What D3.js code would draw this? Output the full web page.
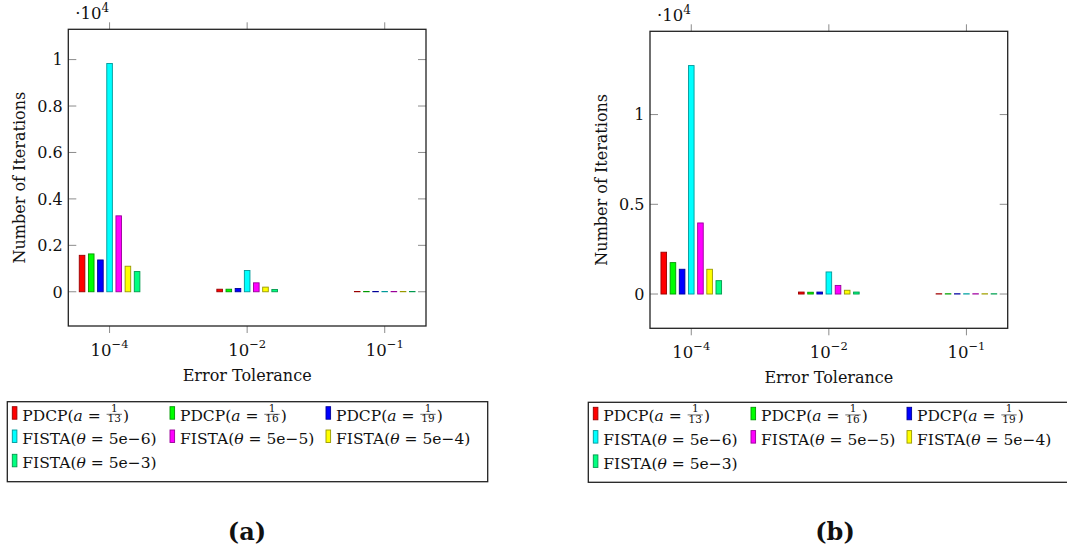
<!DOCTYPE html>
<html>
<head>
<meta charset="utf-8">
<script src="https://cdn.jsdelivr.net/npm/d3@7"></script>
<style>
  html, body { margin: 0; padding: 0; background: #fff; }
  svg { display: block; }
  text { font-family: "DejaVu Serif", serif; fill: #111; white-space: pre; }
</style>
</head>
<body>
<svg id="fig" width="1067" height="554"></svg>
<script>
// Error tolerances on the x axis (shown as 10^exp)
const tolerances = ["1e-4", "1e-2", "1e-1"];
const toleranceExponents = ["\u22124", "\u22122", "\u22121"];

// Method names for the legend
const methods = [
  { name: "PDCP(",  sym: "a", num: "1", den: "13" },
  { name: "PDCP(",  sym: "a", num: "1", den: "16" },
  { name: "PDCP(",  sym: "a", num: "1", den: "19" },
  { name: "FISTA(", sym: "\u03b8", val: "5e\u22126" },
  { name: "FISTA(", sym: "\u03b8", val: "5e\u22125" },
  { name: "FISTA(", sym: "\u03b8", val: "5e\u22124" },
  { name: "FISTA(", sym: "\u03b8", val: "5e\u22123" }
];
const methodColors = ["#ff0000", "#00ff00", "#0000ff", "#00ffff", "#ff00ff", "#ffff00", "#00ff80"];

// Panel (a): iterations per tolerance for each method
const pdcp13A = [1570, 110, 12];
const pdcp16A = [1630, 110, 12];
const pdcp19A = [1370, 140, 12];
const fista6A = [9830, 915, 12];
const fista5A = [3270, 385, 12];
const fista4A = [1100, 200, 12];
const fista3A = [870, 100, 12];

// Panel (b): iterations per tolerance for each method
const pdcp13B = [2330, 110, 15];
const pdcp16B = [1750, 100, 15];
const pdcp19B = [1380, 110, 15];
const fista6B = [12730, 1230, 15];
const fista5B = [3960, 480, 15];
const fista4B = [1380, 210, 15];
const fista3B = [745, 110, 15];

// y tick values (raw) for each panel; labels are value / 10^4
const yTicksA = [0, 2000, 4000, 6000, 8000, 10000];
const yTicksB = [0, 5000, 10000];

const svg = d3.select("#fig");

// darker outline, like color!60!black
function outline(c) {
  const k = d3.rgb(c);
  return d3.rgb(k.r * 0.6, k.g * 0.6, k.b * 0.6).formatHex();
}

const FS = 16;        // main label size
const FS_SUP = 11.5;  // superscripts
const FS_LEG = 15.5;  // legend text
const FS_FRAC = 10.5; // legend fractions

function drawPanel(cfg) {
  const { left, right, top, bottom, series, yTicks, letter, legend } = cfg;
  const g = svg.append("g");

  const maxV = d3.max(series.flat());
  const x = d3.scalePoint().domain(tolerances).range([left, right]).padding(0.3);
  const y = d3.scaleLinear().domain([-0.15 * maxV, 1.15 * maxV]).range([bottom, top]);
  const barStep = 9.17, barW = 5.6;

  // bars
  series.forEach((vals, i) => {
    g.selectAll(null).data(vals).enter().append("rect")
      .attr("x", (d, j) => x(tolerances[j]) + (i - 3) * barStep - barW / 2)
      .attr("width", barW)
      .attr("y", d => y(d))
      .attr("height", d => Math.max(0.01, y(0) - y(d)))
      .attr("fill", methodColors[i])
      .attr("stroke", outline(methodColors[i]))
      .attr("stroke-width", 0.9);
  });

  // y ticks (inside, both sides)
  const tickLen = 8;
  yTicks.forEach(t => {
    g.append("line").attr("x1", left).attr("x2", left + tickLen)
      .attr("y1", y(t)).attr("y2", y(t)).attr("stroke", "#8c8c8c").attr("stroke-width", 1);
    g.append("line").attr("x1", right - tickLen).attr("x2", right)
      .attr("y1", y(t)).attr("y2", y(t)).attr("stroke", "#8c8c8c").attr("stroke-width", 1);
    g.append("text").attr("x", left - 5.5).attr("y", y(t)).attr("dy", "0.36em")
      .attr("text-anchor", "end").attr("font-size", FS)
      .text(d3.format("~g")(t / 1e4));
  });

  // x ticks (outside, top and bottom)
  tolerances.forEach((c, j) => {
    g.append("line").attr("x1", x(c)).attr("x2", x(c)).attr("y1", top).attr("y2", top - 7)
      .attr("stroke", "#8c8c8c").attr("stroke-width", 1);
    g.append("line").attr("x1", x(c)).attr("x2", x(c)).attr("y1", bottom).attr("y2", bottom + 7)
      .attr("stroke", "#8c8c8c").attr("stroke-width", 1);
    const t = g.append("text").attr("x", x(c)).attr("y", bottom + 30)
      .attr("text-anchor", "middle").attr("font-size", FS + 0.5);
    t.append("tspan").text("10");
    t.append("tspan").attr("dy", -8).attr("font-size", FS_SUP).text(toleranceExponents[j]);
  });

  // frame
  g.append("rect").attr("x", left).attr("y", top).attr("width", right - left).attr("height", bottom - top)
    .attr("fill", "none").attr("stroke", "#222").attr("stroke-width", 1.3);

  // scale factor label
  const sf = g.append("text").attr("x", left + 7).attr("y", top - 10).attr("font-size", FS + 0.5);
  sf.append("tspan").text("\u00b710");
  sf.append("tspan").attr("dy", -7).attr("font-size", FS_SUP + 0.5).text("4");

  // axis titles
  g.append("text").attr("x", (left + right) / 2).attr("y", bottom + 55)
    .attr("text-anchor", "middle").attr("font-size", FS).text("Error Tolerance");
  g.append("text")
    .attr("transform", `translate(${left - 48},${(top + bottom) / 2}) rotate(-90)`)
    .attr("text-anchor", "middle").attr("dy", "0.32em").attr("font-size", FS)
    .text("Number of Iterations");

  // legend
  const lg = svg.append("g");
  lg.append("rect").attr("x", legend.x).attr("y", legend.y).attr("width", legend.w).attr("height", 80)
    .attr("fill", "#fff").attr("stroke", "#222").attr("stroke-width", 1.3);
  const colX = [5, 162.7, 318.7];
  const rowY = [19, 42.3, 66.6];
  methods.forEach((m, i) => {
    const cx = legend.x + colX[i % 3];
    const by = legend.y + rowY[Math.floor(i / 3)];
    lg.append("rect").attr("x", cx).attr("y", by - 14).attr("width", 4.6).attr("height", 12.5)
      .attr("fill", methodColors[i]).attr("stroke", outline(methodColors[i])).attr("stroke-width", 0.9);
    const tx = cx + 10;
    const t = lg.append("text").attr("x", tx).attr("y", by).attr("font-size", FS_LEG);
    t.append("tspan").text(m.name);
    t.append("tspan").attr("font-style", "italic").text(m.sym);
    t.append("tspan").text(" = ");
    if (m.den) {
      const w1 = t.node().getComputedTextLength();
      const den = lg.append("text").attr("font-size", FS_FRAC).attr("y", by + 1.5)
        .attr("text-anchor", "middle").text(m.den);
      const fw = den.node().getComputedTextLength() + 2;
      const fx = tx + w1 + 1;
      den.attr("x", fx + fw / 2);
      lg.append("text").attr("font-size", FS_FRAC).attr("x", fx + fw / 2).attr("y", by - 9)
        .attr("text-anchor", "middle").text(m.num);
      lg.append("line").attr("x1", fx).attr("x2", fx + fw).attr("y1", by - 6.4).attr("y2", by - 6.4)
        .attr("stroke", "#111").attr("stroke-width", 0.6);
      lg.append("text").attr("font-size", FS_LEG).attr("x", fx + fw + 1).attr("y", by).text(")");
    } else {
      t.append("tspan").text(m.val + ")");
    }
  });

  // panel letter
  svg.append("text").attr("x", letter.x).attr("y", 540).attr("text-anchor", "middle")
    .attr("font-size", 24).attr("font-weight", "bold").text(letter.text);
}

drawPanel({
  left: 68.3, right: 426, top: 29.3, bottom: 326,
  series: [pdcp13A, pdcp16A, pdcp19A, fista6A, fista5A, fista4A, fista3A],
  yTicks: yTicksA,
  legend: { x: 7.3, y: 401.7, w: 480.4 },
  letter: { x: 247, text: "(a)" }
});

drawPanel({
  left: 650, right: 1007.7, top: 31.3, bottom: 328.3,
  series: [pdcp13B, pdcp16B, pdcp19B, fista6B, fista5B, fista4B, fista3B],
  yTicks: yTicksB,
  legend: { x: 588.3, y: 402.3, w: 480 },
  letter: { x: 835, text: "(b)" }
});
</script>
</body>
</html>
